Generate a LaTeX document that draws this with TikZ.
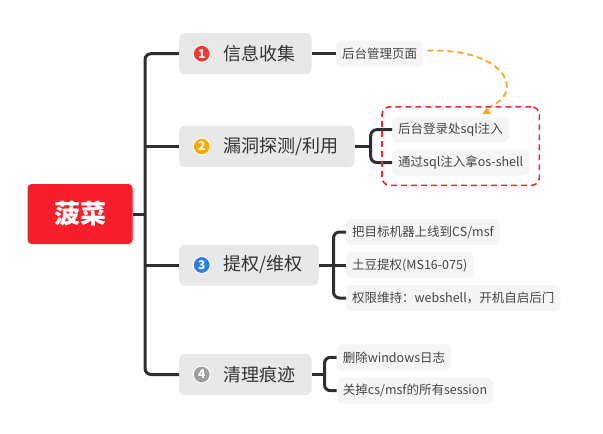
\documentclass[tikz,border=0pt]{standalone}
\usepackage{fontspec}
\setmainfont{Noto Sans CJK SC}
\usetikzlibrary{fit,calc}
\definecolor{rootred}{HTML}{F71E2C}
\definecolor{linec}{HTML}{2E2E2E}
\definecolor{branchfill}{HTML}{E8E8E8}
\definecolor{branchtext}{HTML}{333333}
\definecolor{subfill}{HTML}{F5F5F5}
\definecolor{subtext}{HTML}{444444}
\definecolor{cone}{HTML}{F03A3A}
\definecolor{ctwo}{HTML}{FFAA00}
\definecolor{cthree}{HTML}{2B7DE9}
\definecolor{cfour}{HTML}{9E9E9E}
\definecolor{relorange}{HTML}{F8A826}
\definecolor{boxred}{HTML}{EE2536}
\begin{document}
\begin{tikzpicture}[x=1pt,y=-1pt,
  conn/.style={draw=linec, line width=3pt},
  rootbox/.style={fill=rootred, rounded corners=4pt, minimum width=105pt, minimum height=60pt, text=white, font=\fontsize{26}{28}\selectfont\bfseries},
  branch/.style={fill=branchfill, rounded corners=5pt, anchor=west, inner xsep=16pt, minimum height=41pt, text=branchtext, font=\fontsize{18}{20}\selectfont},
  subbox/.style={fill=subfill, rounded corners=5pt, anchor=west, inner xsep=6pt, minimum height=26pt, text=subtext, font=\fontsize{12.5}{14}\selectfont},
  numc/.style={circle, draw=white, line width=1pt, inner sep=0pt, minimum size=17pt, text=white, font=\fontsize{12}{12}\selectfont\bfseries},
  groupbox/.style={draw=boxred, line width=1.6pt, dash pattern=on 6pt off 4pt, rounded corners=8pt, inner xsep=10pt, inner ysep=9.7pt},
  relation/.style={draw=relorange, line width=1.8pt, dash pattern=on 6pt off 4pt}
]
\useasboundingbox (0,0) rectangle (603,434);

% root and branches
\node[rootbox] (root) at (80,214) {菠菜};
\node[branch] (b1) at (179,53.7) {\hspace*{28.3pt}信息收集};
\node[branch] (b2) at (179,146.5) {\hspace*{28.3pt}漏洞探测/利用};
\node[branch] (b3) at (179,265) {\hspace*{28.3pt}提权/维权};
\node[branch] (b4) at (179,374.5) {\hspace*{28.3pt}清理痕迹};

\node[numc, fill=cone] (n1) at (201.7,53.7) {1};
\node[numc, fill=ctwo] (n2) at (201.7,146.5) {2};
\node[numc, fill=cthree] (n3) at (201.7,265) {3};
\node[numc, fill=cfour] (n4) at (201.7,374.5) {4};

% sub topics
\node[subbox] (s1) at (336,53.7) {后台管理页面};
\node[subbox] (s21) at (392,129.7) {后台登录处sql注入};
\node[subbox] (s22) at (392,162.5) {通过sql注入拿os-shell};
\node[subbox] (s31) at (346,232) {把目标机器上线到CS/msf};
\node[subbox] (s32) at (346,265) {土豆提权(MS16-075)};
\node[subbox] (s33) at (346,298) {权限维持：webshell，开机自启后门};
\node[subbox] (s41) at (336.7,357.3) {删除windows日志};
\node[subbox] (s42) at (336.7,390.7) {关掉cs/msf的所有session};

% junction coordinates
\coordinate (sp) at (145,214);
\coordinate (k2) at (370.7,146.5);
\coordinate (k3) at (333.5,265);
\coordinate (k4) at (324.5,374.5);

% main connectors
\draw[conn] (root.east) -- (sp);
\draw[conn, rounded corners=6pt] (b1.west) -| (sp) |- (b4.west);
\draw[conn] (b2.west) -- (b2.west -| sp);
\draw[conn] (b3.west) -- (b3.west -| sp);

% sub connectors
\draw[conn] (b1.east) -- (s1.west);
\draw[conn] (b2.east) -- (k2);
\draw[conn, rounded corners=6pt] (s21.west) -| (k2) |- (s22.west);
\draw[conn] (b3.east) -- (s32.west);
\draw[conn, rounded corners=6pt] (s31.west) -| (k3) |- (s33.west);
\draw[conn] (b4.east) -- (k4);
\draw[conn, rounded corners=6pt] (s41.west) -| (k4) |- (s42.west);

% group boundary
\node[groupbox, fit=(s21)(s22)] (grp) {};

% relationship
\coordinate (relend) at (491,106);
\draw[relation] ($(s1.east)+(4,-3)$) .. controls (505,48) and (525,92) .. (relend);
\fill[relorange] (486.7,107.5) -- (491,114) -- (482.4,114) -- cycle;
\end{tikzpicture}
\end{document}
